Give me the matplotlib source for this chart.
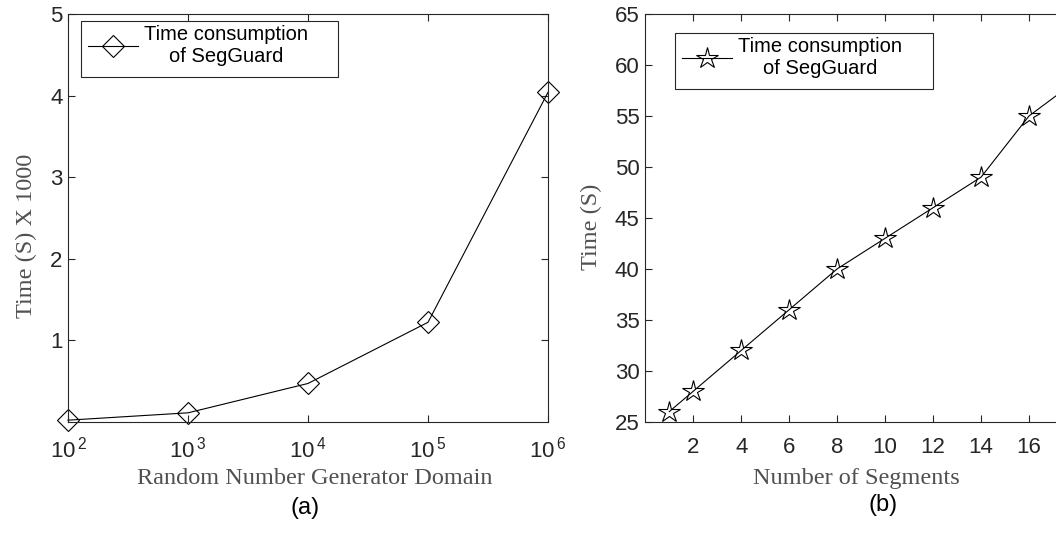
import numpy as np
import matplotlib
matplotlib.use('Agg')
import matplotlib.pyplot as plt
from matplotlib.patches import Rectangle
from matplotlib.ticker import FixedLocator, FuncFormatter

# ── data ────────────────────────────────────────────────────
domain = [1e2, 1e3, 1e4, 1e5, 1e6]
time_domain = [0.02, 0.11, 0.47, 1.22, 4.04]      # seconds x 1000

segments = [1, 2, 4, 6, 8, 10, 12, 14, 16, 18]
time_segments = [26, 28, 32, 36, 40, 43, 46, 49, 55, 58.5]

legend_label = 'Time consumption\nof SegGuard'

plt.rcParams['mathtext.fontset'] = 'custom'
plt.rcParams['mathtext.rm'] = 'Liberation Sans'
plt.rcParams['mathtext.it'] = 'Liberation Sans'

sans = 'Liberation Sans'
serif = 'Liberation Serif'
tick_col = '#262626'
label_col = '#505050'

fig = plt.figure(figsize=(10.56, 5.44), dpi=100)
W, H = 1056, 544

def px_axes(l, t, r, b):
    return fig.add_axes([l / W, 1 - b / H, (r - l) / W, (b - t) / H])

# the right panel runs past the picture's edge, as in the reference
ax1 = px_axes(68, 14, 548, 421.8)
ax2 = px_axes(645.3, 14, 1077, 421.8)

def style(ax):
    for s in ax.spines.values():
        s.set_color(tick_col)
        s.set_linewidth(0.8)
    ax.tick_params(direction='in', top=True, right=True, length=5,
                   width=0.8, color=tick_col, labelcolor=tick_col,
                   labelsize=16)
    ax.tick_params(axis='x', pad=11)
    ax.tick_params(axis='y', pad=4)
    for lab in ax.get_xticklabels() + ax.get_yticklabels():
        lab.set_fontfamily(sans)

def legend_box(ax, box_px, text_px):
    # legend without its own frame, plus a square box drawn in figure pixels
    l, t, r, b = box_px
    x0, y0 = text_px
    leg = ax.legend(loc='upper left', bbox_to_anchor=(x0 / W, 1 - y0 / H),
                    bbox_transform=fig.transFigure, borderaxespad=0,
                    borderpad=0, prop={'family': sans, 'size': 14.5},
                    frameon=False, handlelength=2.5, handletextpad=0.3)
    for t_ in leg.get_texts():
        t_.set_ha('center')
    fig.patches.append(Rectangle((l / W, 1 - b / H), (r - l) / W, (b - t) / H,
                                 transform=fig.transFigure, fill=False,
                                 edgecolor=tick_col, linewidth=0.8))
    return leg

# ── (a) ──────────────────────────────────────────────────────
ax1.plot(domain, time_domain, color='black', linewidth=0.8, marker='D',
         markersize=11.5, markerfacecolor='none', markeredgecolor='black',
         markeredgewidth=0.8, label=legend_label, clip_on=False)
ax1.set_xscale('log')
ax1.set_xlim(1e2, 1e6)
ax1.set_ylim(0, 5)
ax1.xaxis.set_major_locator(FixedLocator(domain))
ax1.xaxis.set_minor_locator(FixedLocator([]))
ax1.xaxis.set_major_formatter(FuncFormatter(
    lambda v, p: r'$10^{\,%d}$' % round(np.log10(v))))
ax1.set_yticks([1, 2, 3, 4, 5])
style(ax1)
ax1.set_xlabel('Random Number Generator Domain', fontfamily=serif,
               fontsize=17.5, color=label_col)
ax1.set_ylabel('Time (S) X 1000', fontfamily=serif, fontsize=17.5,
               color=label_col)
ax1.xaxis.set_label_coords(0.515, -0.114)
ax1.yaxis.set_label_coords(-0.064, 0.456)
legend_box(ax1, (81, 21, 338, 77), (88, 25))
fig.text(305 / W, 1 - 508 / H, '(a)', fontfamily=sans, fontsize=17,
         color='black', ha='center', va='center')

# ── (b) ──────────────────────────────────────────────────────
ax2.plot(segments, time_segments, color='black', linewidth=0.8, marker='*',
         markersize=16, markerfacecolor='none', markeredgecolor='black',
         markeredgewidth=0.8, label=legend_label)
ax2.set_xlim(0, 18)
ax2.set_ylim(25, 65)
ax2.set_xticks([2, 4, 6, 8, 10, 12, 14, 16])
ax2.set_yticks(range(25, 66, 5))
style(ax2)
ax2.set_xlabel('Number of Segments', fontfamily=serif, fontsize=17.5,
               color=label_col)
ax2.set_ylabel('Time (S)', fontfamily=serif, fontsize=17.5,
               color=label_col)
ax2.xaxis.set_label_coords(0.488, -0.114)
ax2.yaxis.set_label_coords(-0.100, 0.478)
legend_box(ax2, (675, 33, 933, 89), (682, 37))
fig.text(883 / W, 1 - 505 / H, '(b)', fontfamily=sans, fontsize=17,
         color='black', ha='center', va='center')

fig.savefig('out.png', dpi=100)
